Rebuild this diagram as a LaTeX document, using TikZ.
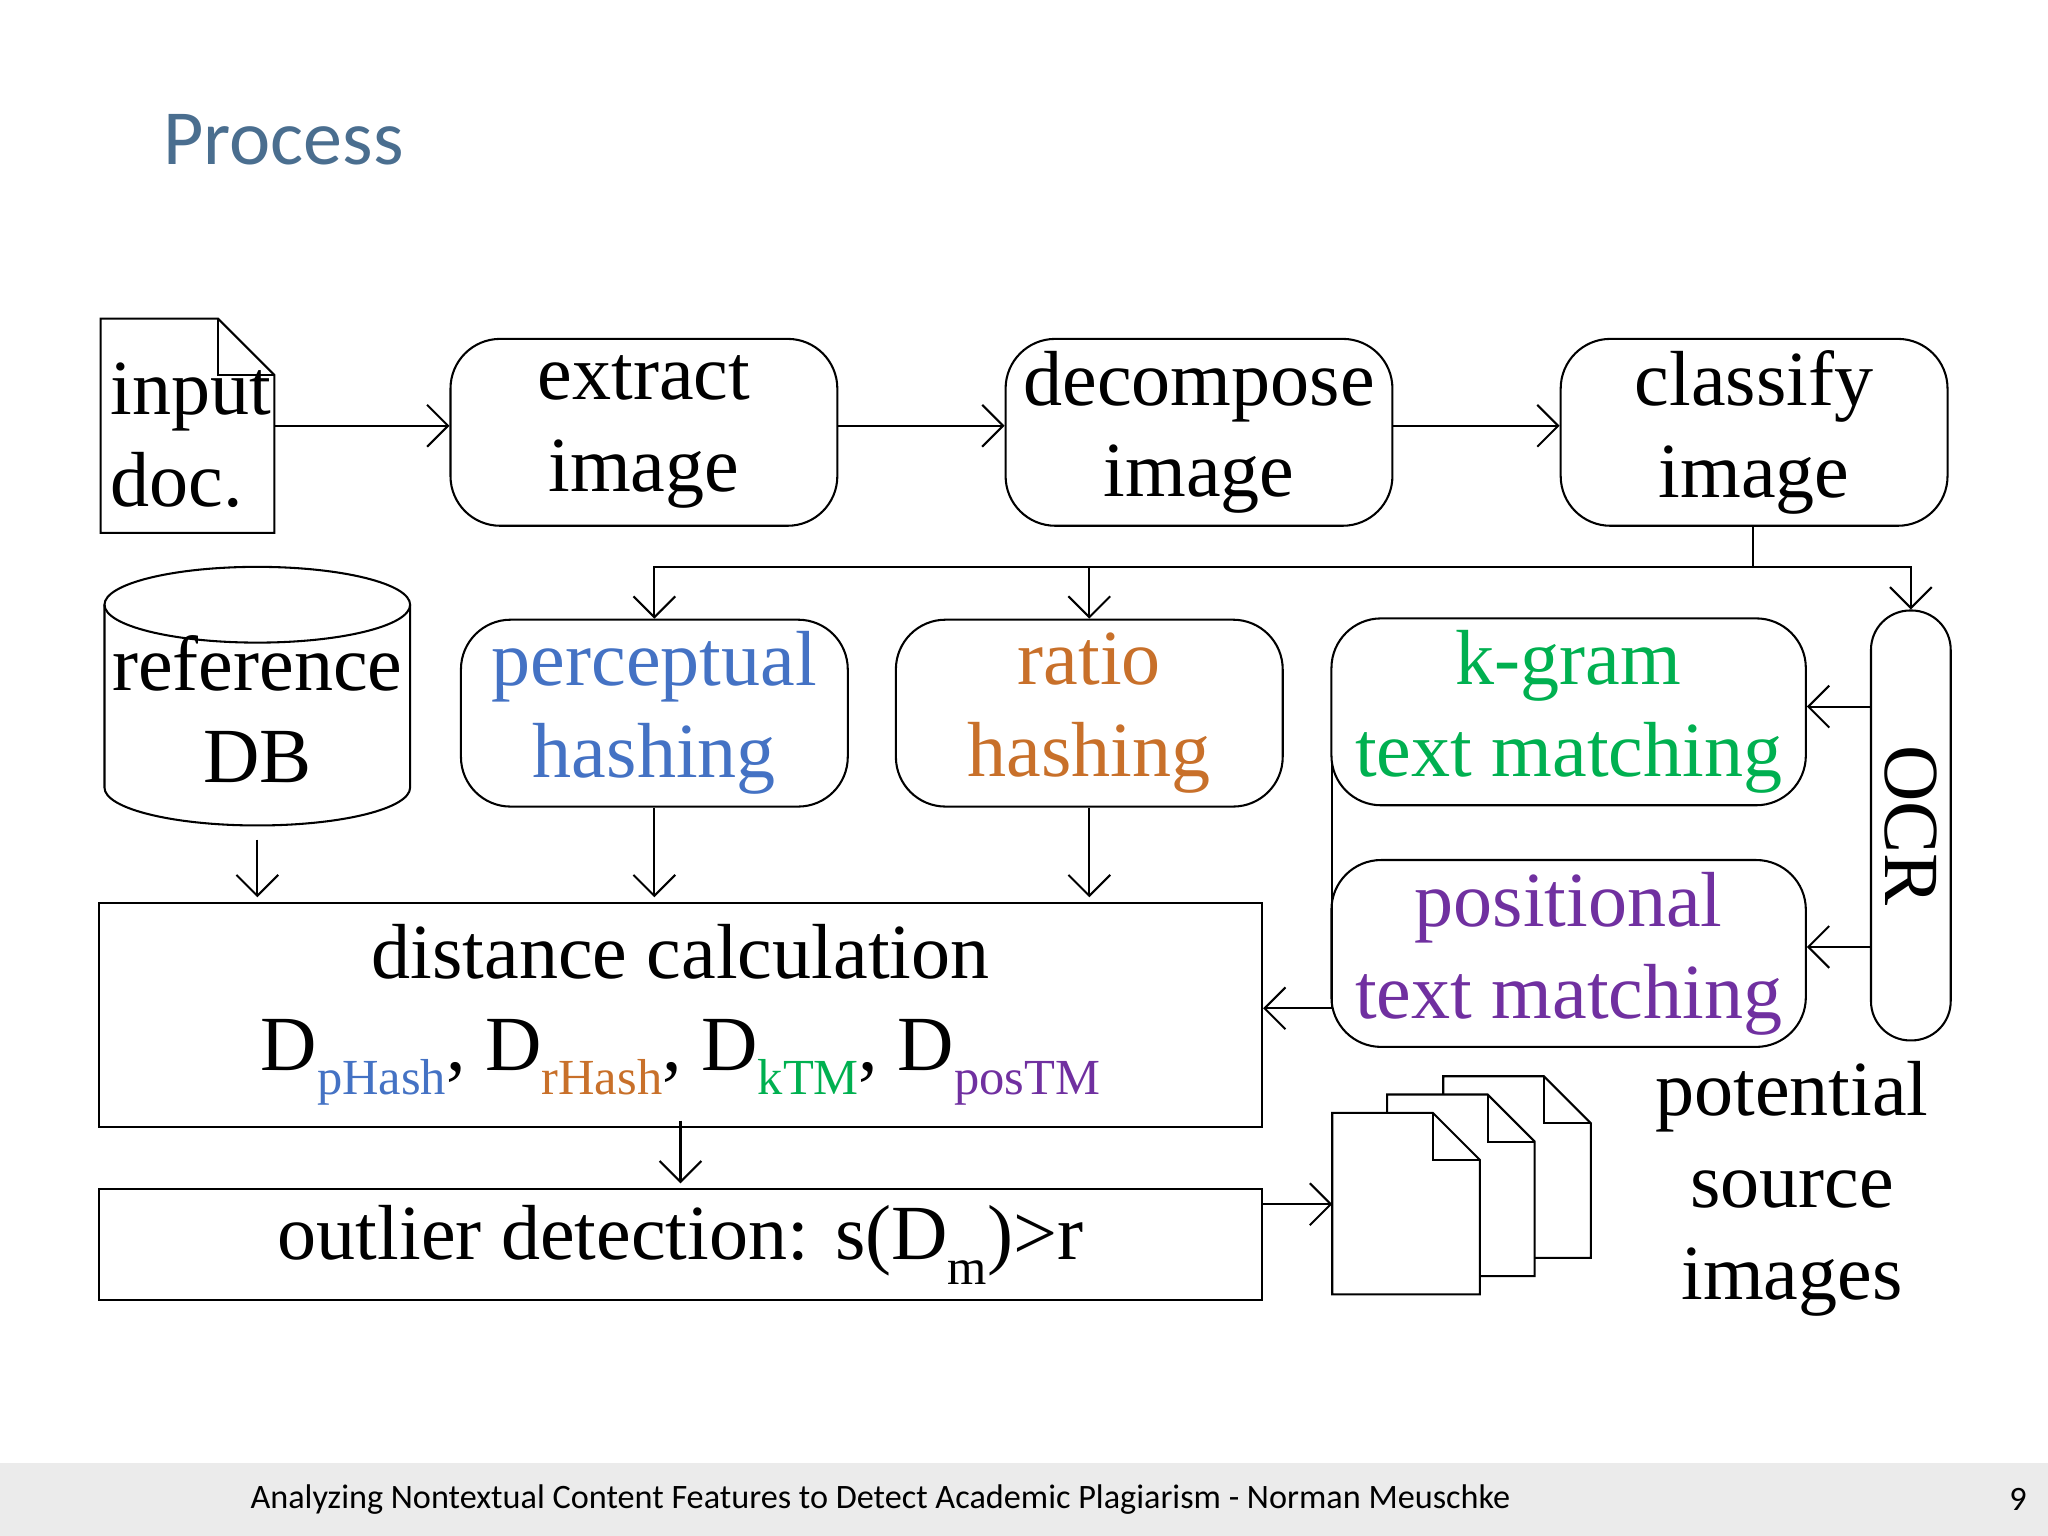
\documentclass[tikz,border=0pt]{standalone}
\usepackage{fontspec}
\setmainfont{Liberation Serif}
\newfontfamily\slidefont{Carlito}
\usetikzlibrary{arrows.meta,positioning}
\definecolor{titleblue}{HTML}{4A6E8F}
\definecolor{phash}{HTML}{4472C4}
\definecolor{rhash}{HTML}{C8702A}
\definecolor{ktm}{HTML}{00B050}
\definecolor{postm}{HTML}{7030A0}
\newcommand\bigtext{\fontsize{17}{20}\selectfont}
\newcommand\sub[2]{\raisebox{-0.32em}{\fontsize{11}{11}\selectfont\color{#1}#2}}
\newcommand\docpage[2]{%
  \draw[fill=white] (#1,#2) -- ++(77,0) -- ++(36,36) -- ++(0,103) -- ++(-113,0) -- cycle;
  \draw (#1+77,#2) -- ++(0,36) -- ++(36,0);}
\tikzset{
  box/.style={draw, rounded corners=0.38cm, minimum width=2.96cm, minimum height=1.43cm,
    align=center, font=\bigtext, inner sep=0pt},
  flow/.style={-{Straight Barb[length=0.16cm,width=0.32cm]}},
}
\begin{document}
\begin{tikzpicture}[x=0.01cm,y=-0.01cm,line width=0.45pt]
	\useasboundingbox (0,0) rectangle (1568,1176);
	\fill[gray!16] (0,1120) rectangle (1568,1176);
	\node[text=titleblue,font=\slidefont\fontsize{17}{20}\selectfont] (title) at (217,107) {Process};
	\node[font=\slidefont\fontsize{7.45}{9}\selectfont] (footer) at (674,1148) {Analyzing Nontextual Content Features to Detect Academic Plagiarism - Norman Meuschke};
	\node[font=\slidefont\fontsize{7.45}{9}\selectfont] (pageno) at (1545,1148) {9};
	
	% top row
	\node[align=left,font=\bigtext,inner sep=0pt,anchor=west] (input) at (84,333) {input\\doc.};
	\draw (77,244) -- (167,244) -- (210,287) -- (210,408) -- (77,408) -- cycle;
	\draw (167,244) -- (167,287) -- (210,287);
	\coordinate (inputE) at (210,326);
	\node[box] (extract) at (493,331) {extract\\image};
	\node[box] (decomp) at (918,331) {decompose\\image};
	\node[box] (classify) at (1343,331) {classify\\image};
	
	% middle row
	\node[font=\bigtext,align=center,minimum width=2.34cm,minimum height=1.98cm,inner sep=0pt] (db) at (197,543) {reference\\DB};
	\draw (80,463) -- (80,603) arc[start angle=180,end angle=0,x radius=117,y radius=29] -- (314,463);
	\draw (197,463) ellipse[x radius=117,y radius=29];
	\node[box,text=phash] (percep) at (501,546) {perceptual\\hashing};
	\node[box,text=rhash] (ratio) at (834,546) {ratio\\hashing};
	\node[box,minimum width=3.63cm,text=ktm] (kgram) at (1201,545) {k-gram\\text matching};
	\node[box,minimum width=3.63cm,text=postm] (posit) at (1201,730) {positional\\text matching};
	\node[draw,rounded corners=0.3cm,minimum width=0.61cm,minimum height=3.29cm] (ocr) at (1463,632) {};
	\node[rotate=-90,font=\bigtext] (ocrlabel) at (ocr.center) {OCR};
	
	% bottom
	\node[draw,minimum width=8.9cm,minimum height=1.71cm,align=center,font=\bigtext] (dist) at (521,777)
		{distance calculation\\D\sub{phash}{pHash}, D\sub{rhash}{rHash}, D\sub{ktm}{kTM}, D\sub{postm}{posTM}};
	\node[draw,minimum width=8.9cm,minimum height=0.85cm,font=\bigtext] (outlier) at (521,953) {outlier detection: s(D\sub{black}{m})>r};
	\docpage{1105}{824}
	\docpage{1062}{838}
	\docpage{1020}{852}
	\coordinate (stack) at (1020,922);
	\node[font=\bigtext,align=center] (sources) at (1372,910) {potential\\source\\images};
	
	\draw[flow] (inputE) -- (inputE -| extract.west);
	\draw[flow] (inputE -| extract.east) -- (inputE -| decomp.west);
	\draw[flow] (inputE -| decomp.east) -- (inputE -| classify.west);
	\coordinate (bus) at (1342,434);
	\draw (bus |- classify.south) -- (bus);
	\draw[flow] (bus) -| (percep.north);
	\draw[flow] (bus) -| (ratio.north);
	\draw[flow] (bus) -| (ocr);
	\draw[flow] (1433,541) -- (kgram.east |- 0,541);
	\draw[flow] (1433,725) -- (posit.east |- 0,725);
	\draw[flow] (1020,585) |- (dist.east |- 0,772);
	\draw[flow] (db.south) -- (db.south |- 0,687);
	\draw[flow] (percep.south) -- (percep.south |- 0,687);
	\draw[flow] (ratio.south) -- (ratio.south |- 0,687);
	\draw[flow] (521,858) -- (521,906);
	\draw[flow] (966,922) -- (stack);
\end{tikzpicture}
\end{document}
